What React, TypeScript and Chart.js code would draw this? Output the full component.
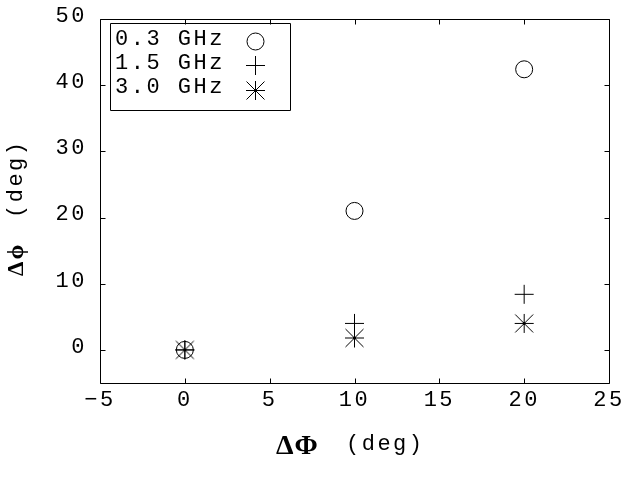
import React, { useEffect, useRef } from 'react';
import { Chart, registerables } from 'chart.js';

Chart.register(...registerables);

// ---- data ----
const seriesLabels = ['0.3 GHz', '1.5 GHz', '3.0 GHz'];
const xValues = [0, 10, 20];
const series03 = [0, 21.0, 42.4];
const series15 = [0, 4.0, 8.4];
const series30 = [0, 1.8, 4.0];
const xTicks = [-5, 0, 5, 10, 15, 20, 25];
const yTicks = [0, 10, 20, 30, 40, 50];
const xTitleSym = 'ΔΦ';
const yTitleDelta = 'Δ';
const yTitlePhi = 'ϕ';
const unitText = '(deg)';

const MONO = '"Liberation Mono", "DejaVu Sans Mono", monospace';
const SERIF = '"Liberation Serif", "DejaVu Serif", serif';
const SPACING = '2.5px';
const FONT_SIZE = 22;

function makeAsterisk(): HTMLCanvasElement {
  const c = document.createElement('canvas');
  c.width = 21;
  c.height = 21;
  const g = c.getContext('2d')!;
  g.strokeStyle = '#000';
  g.lineWidth = 1;
  g.beginPath();
  g.moveTo(1, 10.5); g.lineTo(20, 10.5);
  g.moveTo(10.5, 1); g.lineTo(10.5, 20);
  g.moveTo(1.5, 1.5); g.lineTo(19.5, 19.5);
  g.moveTo(19.5, 1.5); g.lineTo(1.5, 19.5);
  g.stroke();
  g.fillStyle = '#000';
  g.fillRect(9.5, 9.5, 2, 2);
  return c;
}

function toPoints(ys: number[]) {
  return xValues.map((x, i) => ({ x, y: ys[i] }));
}

export default function App() {
  const ref = useRef<HTMLCanvasElement>(null);

  useEffect(() => {
    const canvas = ref.current!;
    const asterisk = makeAsterisk();

    const spacingPlugin = {
      id: 'spacing',
      beforeUpdate(chart: any) { chart.ctx.letterSpacing = SPACING; },
      beforeLayout(chart: any) { chart.ctx.letterSpacing = SPACING; },
      beforeDraw(chart: any) { chart.ctx.letterSpacing = SPACING; },
    };

    const framePlugin = {
      id: 'frame',
      afterDraw(chart: any) {
        const ctx = chart.ctx as CanvasRenderingContext2D;
        const { left, right, top, bottom } = chart.chartArea;
        const xs = chart.scales.x;
        const ys = chart.scales.y;
        const L = Math.round(left) + 0.5;
        const R = Math.round(right) + 0.5;
        const T = Math.round(top) + 0.5;
        const B = Math.round(bottom) + 0.5;
        ctx.save();
        ctx.letterSpacing = '0px';
        ctx.strokeStyle = '#000';
        ctx.lineWidth = 1;
        ctx.beginPath();
        ctx.rect(L, T, R - L, B - T);
        const tl = 5;
        xs.ticks.forEach((t: any) => {
          const px = Math.round(xs.getPixelForValue(t.value)) + 0.5;
          ctx.moveTo(px, B); ctx.lineTo(px, B - tl);
          ctx.moveTo(px, T); ctx.lineTo(px, T + tl);
        });
        ys.ticks.forEach((t: any) => {
          const py = Math.round(ys.getPixelForValue(t.value)) + 0.5;
          ctx.moveTo(L, py); ctx.lineTo(L + tl, py);
          ctx.moveTo(R, py); ctx.lineTo(R - tl, py);
        });
        ctx.stroke();

        // legend
        ctx.beginPath();
        ctx.rect(110.5, 23.5, 180, 87);
        ctx.stroke();
        ctx.letterSpacing = SPACING;
        ctx.fillStyle = '#000';
        ctx.font = `${FONT_SIZE}px ${MONO}`;
        ctx.textAlign = 'left';
        ctx.textBaseline = 'middle';
        const textRows = [39, 63, 87];
        const markRows = [41, 65, 90];
        const mx = 255.5;
        chart.data.datasets.forEach((ds: any, i: number) => {
          ctx.fillText(ds.label, 115, textRows[i]);
        });
        ctx.letterSpacing = '0px';
        ctx.beginPath();
        ctx.arc(mx, markRows[0] + 0.5, 8.5, 0, Math.PI * 2);
        ctx.moveTo(mx - 9.5, markRows[1] + 0.5); ctx.lineTo(mx + 9.5, markRows[1] + 0.5);
        ctx.moveTo(mx, markRows[1] - 9); ctx.lineTo(mx, markRows[1] + 10);
        ctx.stroke();
        ctx.drawImage(asterisk, mx - 10.5, markRows[2] - 10);

        // x axis title
        ctx.textBaseline = 'alphabetic';
        ctx.textAlign = 'left';
        ctx.letterSpacing = '1px';
        ctx.font = `bold 28px ${SERIF}`;
        ctx.fillText(xTitleSym, 276, 454);
        ctx.letterSpacing = SPACING;
        ctx.font = `${FONT_SIZE}px ${MONO}`;
        ctx.fillText(unitText, 346, 450);

        // y axis title (rotated)
        ctx.translate(23, 276);
        ctx.rotate(-Math.PI / 2);
        ctx.letterSpacing = '0px';
        ctx.font = `bold 23px ${SERIF}`;
        ctx.fillText(yTitleDelta, 0, 0);
        const dw = ctx.measureText(yTitleDelta).width;
        ctx.font = `bold 24px ${SERIF}`;
        ctx.fillText(yTitlePhi, dw + 2, 0);
        ctx.letterSpacing = SPACING;
        ctx.font = `${FONT_SIZE}px ${MONO}`;
        ctx.fillText(unitText, 58, -1);
        ctx.restore();
      },
    };

    const chart = new Chart(canvas, {
      type: 'scatter',
      data: {
        datasets: [
          {
            label: seriesLabels[0],
            data: toPoints(series03),
            pointStyle: 'circle',
            pointRadius: 8.5,
            pointHoverRadius: 8.5,
            pointBorderWidth: 1,
            borderColor: '#000',
            backgroundColor: 'rgba(0,0,0,0)',
          },
          {
            label: seriesLabels[1],
            data: toPoints(series15),
            pointStyle: 'cross',
            pointRadius: 9.5,
            pointHoverRadius: 9.5,
            pointBorderWidth: 1,
            borderColor: '#000',
            backgroundColor: '#000',
          },
          {
            label: seriesLabels[2],
            data: toPoints(series30),
            pointStyle: asterisk as any,
            pointRadius: 10,
            borderColor: '#000',
            backgroundColor: '#000',
          },
        ],
      },
      options: {
        responsive: false,
        animation: false,
        events: [],
        layout: { padding: { top: 19, right: 31, left: 0, bottom: 0 } },
        plugins: {
          legend: { display: false },
          tooltip: { enabled: false },
          title: { display: false },
        },
        scales: {
          x: {
            type: 'linear',
            min: -5,
            max: 25,
            afterBuildTicks: (s: any) => { s.ticks = xTicks.map((v) => ({ value: v })); },
            afterFit: (s: any) => { s.height = 97; s.paddingLeft = 0; s.paddingRight = 0; },
            grid: { display: false, drawTicks: false },
            border: { display: false },
            ticks: {
              autoSkip: false,
              maxRotation: 0,
              padding: 4,
              color: '#000',
              font: { family: MONO, size: FONT_SIZE },
              callback: (v: any) => String(v).replace('-', '\u2212'),
            },
          },
          y: {
            type: 'linear',
            min: -5,
            max: 50,
            afterBuildTicks: (s: any) => { s.ticks = yTicks.map((v) => ({ value: v })); },
            afterFit: (s: any) => { s.width = 100; s.paddingTop = 0; s.paddingBottom = 0; },
            grid: { display: false, drawTicks: false },
            border: { display: false },
            ticks: {
              autoSkip: false,
              padding: 13,
              labelOffset: -3,
              color: '#000',
              font: { family: MONO, size: FONT_SIZE },
            },
          },
        },
      },
      plugins: [spacingPlugin, framePlugin],
    });

    return () => chart.destroy();
  }, []);

  return (
    <div style={{ position: 'fixed', left: 0, top: 0, width: 640, height: 480, background: '#fff' }}>
      <canvas ref={ref} width={640} height={480} style={{ display: 'block', width: 640, height: 480 }} />
    </div>
  );
}
